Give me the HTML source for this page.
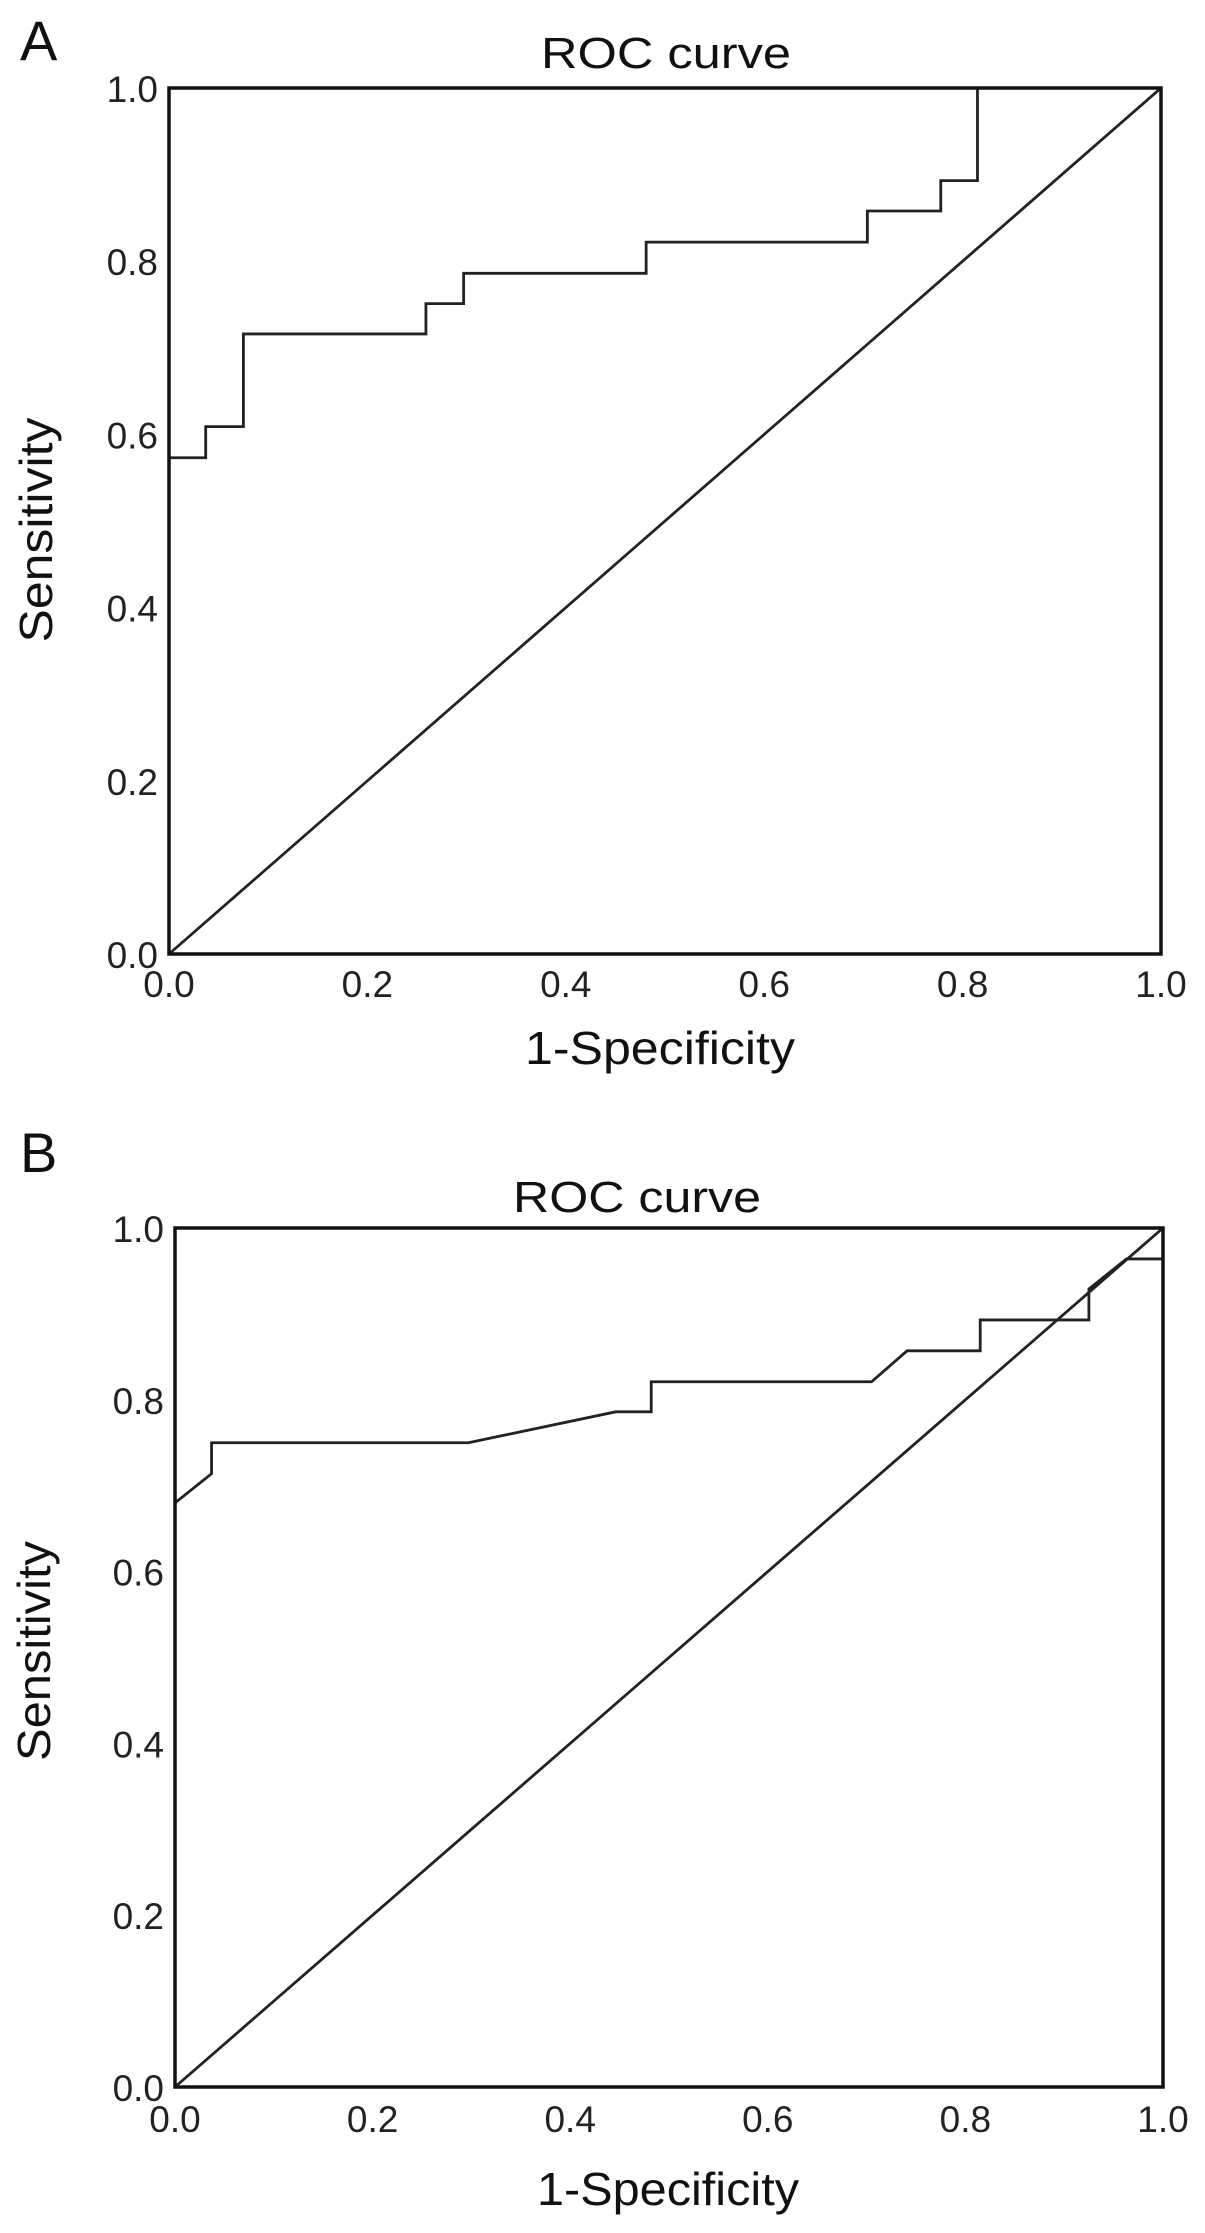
<!DOCTYPE html>
<html><head><meta charset="utf-8"><style>
html,body{margin:0;padding:0;background:#fff;}
svg{display:block;font-family:"Liberation Sans",Arial,sans-serif;}
</style></head><body>
<svg id="fig" width="1205" height="2233" viewBox="0 0 1205 2233" xmlns="http://www.w3.org/2000/svg">
<rect width="1205" height="2233" fill="#fff"/>
</svg>
<script>
const ticks = [0, 0.2, 0.4, 0.6, 0.8, 1.0];
const tickLabels = ["0.0", "0.2", "0.4", "0.6", "0.8", "1.0"];
const curveAx = [0, 0, 0.037, 0.037, 0.075, 0.075, 0.259, 0.259, 0.297, 0.297, 0.481, 0.481, 0.704, 0.704, 0.778, 0.778, 0.815, 0.815, 1.0];
const curveAy = [0, 0.573, 0.573, 0.609, 0.609, 0.716, 0.716, 0.751, 0.751, 0.786, 0.786, 0.822, 0.822, 0.858, 0.858, 0.893, 0.893, 1.0, 1.0];
const curveBx = [0, 0, 0.037, 0.037, 0.297, 0.446, 0.482, 0.482, 0.705, 0.741, 0.815, 0.815, 0.925, 0.925, 0.963, 1.0, 1.0];
const curveBy = [0, 0.68, 0.714, 0.75, 0.75, 0.786, 0.786, 0.821, 0.821, 0.857, 0.857, 0.893, 0.893, 0.929, 0.964, 0.964, 1.0];
const refX = [0, 1];
const refY = [0, 1];

const NS = "http://www.w3.org/2000/svg";
const svg = document.getElementById('fig');
function mk(tag, attrs, parent) {
  const e = document.createElementNS(NS, tag);
  for (const k in attrs) e.setAttribute(k, attrs[k]);
  (parent || svg).appendChild(e);
  return e;
}

function panel(p) {
  const g = mk('g', {});
  
  
  const sx = v => p.L + v * (p.R - p.L);
  const sy = v => p.B - v * (p.B - p.T);

  let t = mk('text', {x: p.letterX, y: p.letterY, 'font-size': 56, fill: '#111'}, g);
  t.textContent = p.id;
  
  

  t = mk('text', {x: p.titleX, y: p.titleY, 'font-size': 44, fill: '#111', 'text-anchor': 'middle', textLength: p.titleW, lengthAdjust: 'spacingAndGlyphs'}, g);
  t.textContent = 'ROC curve';
  
  

  let d = refX.map((x, i) => (i ? 'L' : 'M') + sx(x) + ',' + sy(refY[i])).join(' ');
  let e = mk('path', {d: d, fill: 'none', stroke: '#222', 'stroke-width': 2.8}, g);
  
  

  d = p.cx.map((x, i) => (i ? 'L' : 'M') + sx(x) + ',' + sy(p.cy[i])).join(' ');
  e = mk('path', {d: d, fill: 'none', stroke: '#222', 'stroke-width': 2.8}, g);
  
  

  e = mk('rect', {x: p.L, y: p.T, width: p.R - p.L, height: p.B - p.T, fill: 'none', stroke: '#111', 'stroke-width': 3.5}, g);
  
  

  ticks.forEach((v, i) => {
    let a = mk('text', {x: p.L - 11, y: sy(v) + 14, 'font-size': 37, fill: '#222', 'text-anchor': 'end'}, g);
    a.textContent = tickLabels[i];
    
    
    let b = mk('text', {x: sx(v), y: p.xTickY, 'font-size': 37, fill: '#222', 'text-anchor': 'middle'}, g);
    b.textContent = tickLabels[i];
    
    
  });

  t = mk('text', {x: p.xTitleX, y: p.xTitleY, 'font-size': 46, fill: '#111', 'text-anchor': 'middle', textLength: p.xTitleW, lengthAdjust: 'spacingAndGlyphs'}, g);
  t.textContent = '1-Specificity';
  
  

  t = mk('text', {x: 0, y: 0, 'font-size': 46, fill: '#111', 'text-anchor': 'middle', textLength: p.yTitleW, lengthAdjust: 'spacingAndGlyphs', transform: 'translate(' + p.yTitleX + ',' + p.yTitleY + ') rotate(-90)'}, g);
  t.textContent = 'Sensitivity';
  
  
}

panel({id: 'A', L: 169, R: 1161, T: 88, B: 954, cx: curveAx, cy: curveAy,
  letterX: 20, letterY: 60, titleX: 666, titleY: 68, titleW: 250,
  xTickY: 997, xTitleX: 660, xTitleY: 1064, xTitleW: 270, yTitleX: 52, yTitleY: 530, yTitleW: 225});
panel({id: 'B', L: 175, R: 1163, T: 1228, B: 2087, cx: curveBx, cy: curveBy,
  letterX: 20, letterY: 1172, titleX: 637, titleY: 1212, titleW: 248,
  xTickY: 2132, xTitleX: 668, xTitleY: 2205, xTitleW: 262, yTitleX: 50, yTitleY: 1651, yTitleW: 220});
</script>
</body></html>
